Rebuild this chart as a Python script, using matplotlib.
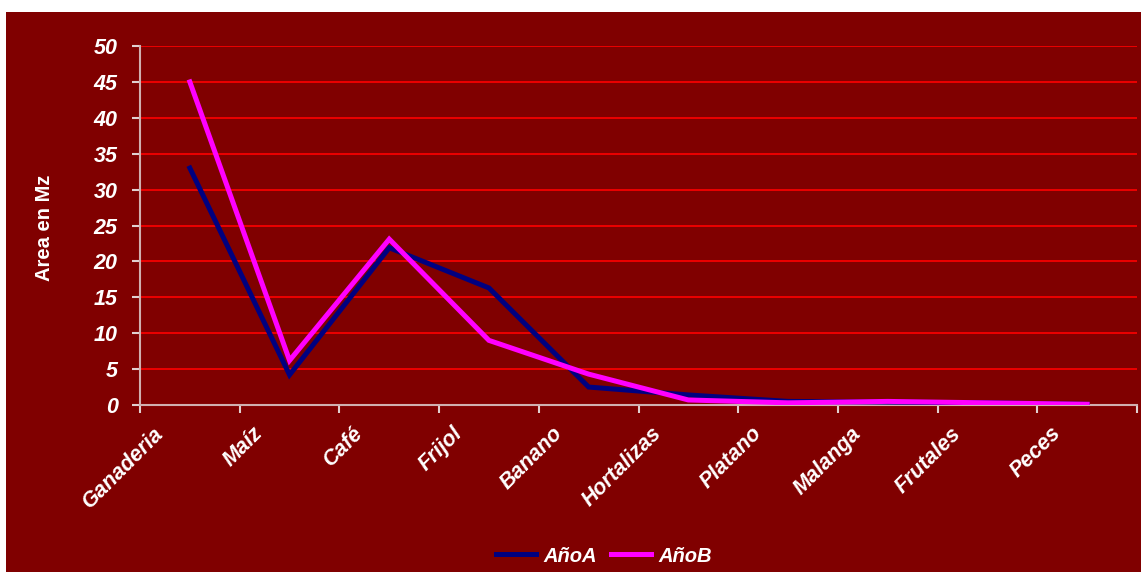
import numpy as np
import matplotlib
matplotlib.use("Agg")
import matplotlib.pyplot as plt
from matplotlib.patches import Rectangle
from matplotlib.transforms import ScaledTranslation

# datos
cultivos = ["Ganaderia", "Maíz", "Café", "Frijol", "Banano",
            "Hortalizas", "Platano", "Malanga", "Frutales", "Peces"]
ano_a = [33.0, 4.2, 21.9, 16.3, 2.5, 1.4, 0.5, 0.4, 0.3, 0.1]
ano_b = [45.0, 6.2, 23.1, 9.0, 4.3, 0.7, 0.3, 0.5, 0.3, 0.1]
y_ticks = [0, 5, 10, 15, 20, 25, 30, 35, 40, 45, 50]

fondo = "#800000"
plt.rcParams['font.family'] = ['Liberation Sans', 'DejaVu Sans']

fig = plt.figure(figsize=(11.41, 5.72), dpi=100)
fig.patch.set_facecolor("white")
fig.patches.append(Rectangle((6 / 1141, 0), 1 - 6 / 1141, 1 - 12 / 572,
                             transform=fig.transFigure, facecolor=fondo,
                             edgecolor="none", zorder=-10))

ax = fig.add_axes([140 / 1141, 1 - 405 / 572, (1137 - 140) / 1141, (405 - 46) / 572])
ax.set_facecolor(fondo)

x = np.arange(len(cultivos))
ax.plot(x, ano_a, color="#000080", lw=3.6, label="AñoA", solid_joinstyle="miter", zorder=3)
ax.plot(x, ano_b, color="#FF00FF", lw=3.6, label="AñoB", solid_joinstyle="miter", zorder=4)

ax.set_xlim(-0.5, len(cultivos) - 0.5)
ax.set_ylim(0, 50)
ax.set_yticks(y_ticks)
ax.yaxis.grid(True, color="#FF0000", lw=1.2)
ax.set_axisbelow(True)

for s in ["top", "right"]:
    ax.spines[s].set_visible(False)
for s in ["left", "bottom"]:
    ax.spines[s].set_color("#D0B0B0")
    ax.spines[s].set_linewidth(1.5)

ax.set_xticks(x)
ax.set_xticklabels(cultivos, rotation=45, ha="right", va="top",
                   fontsize=15.5, fontweight="bold", fontstyle="italic", color="white")
ax.set_xticks(np.arange(-0.5, len(cultivos)), minor=True)
ax.tick_params(axis="x", which="major", length=0, pad=13)
ax.tick_params(axis="x", which="minor", length=6, width=1.5, color="#E0D0D0", direction="out")
ax.tick_params(axis="y", length=6, width=1.5, color="#E0D0D0", pad=10)
for lbl in ax.get_yticklabels():
    lbl.set_fontsize(15.5)
    lbl.set_fontweight("bold")
    lbl.set_fontstyle("italic")
    lbl.set_color("white")

desplaza = ScaledTranslation(-22 / 100, 0, fig.dpi_scale_trans)
for lbl in ax.get_xticklabels():
    lbl.set_transform(lbl.get_transform() + desplaza)

fig.text(45 / 1141, 1 - 228 / 572, "Area en Mz", rotation=90, ha="center", va="center",
         fontsize=14.5, fontweight="bold", color="white")

leg = fig.legend(loc="center", bbox_to_anchor=(604 / 1141, 1 - 556 / 572), ncol=2,
                 frameon=False, handlelength=2.0, columnspacing=0.7, handletextpad=0.35,
                 prop={"size": 14.5, "weight": "bold", "style": "italic"})
for t in leg.get_texts():
    t.set_color("white")

fig.savefig("out.png", dpi=100, facecolor=fig.get_facecolor())
